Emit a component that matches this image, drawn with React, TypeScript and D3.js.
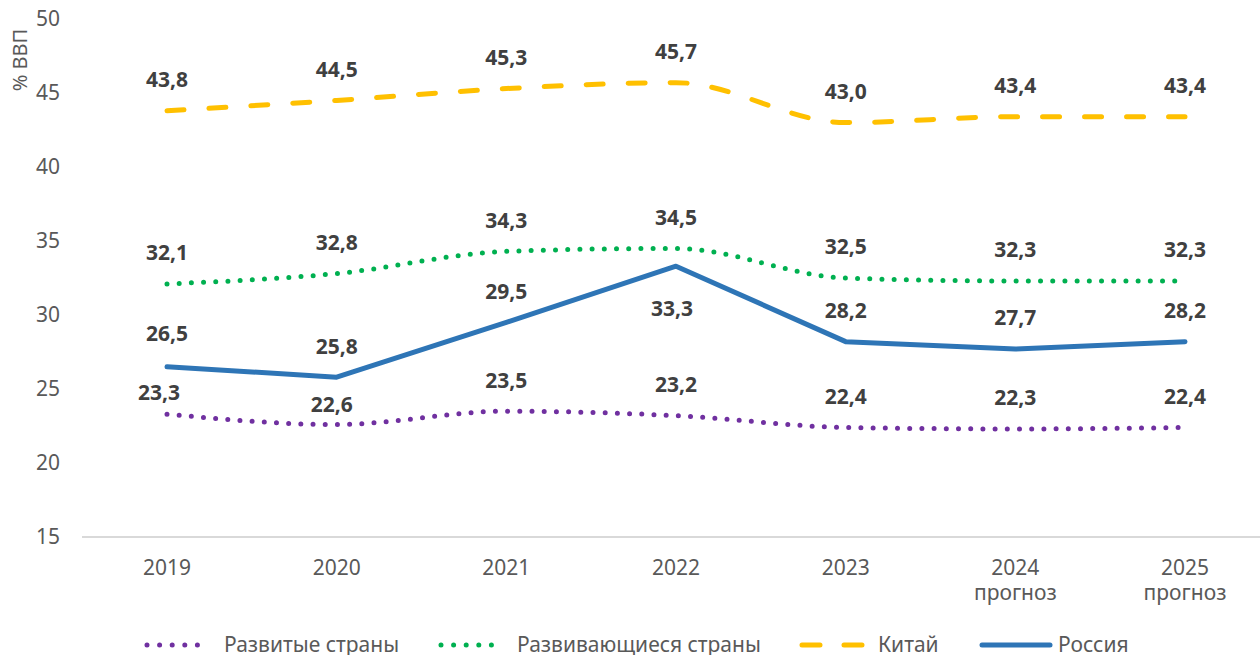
import React from "react";
import * as d3 from "d3";

const years = ["2019", "2020", "2021", "2022", "2023", "2024", "2025"];
const yearSub = ["", "", "", "", "", "прогноз", "прогноз"];
const developed = [23.3, 22.6, 23.5, 23.2, 22.4, 22.3, 22.4];
const developing = [32.1, 32.8, 34.3, 34.5, 32.5, 32.3, 32.3];
const china = [43.8, 44.5, 45.3, 45.7, 43.0, 43.4, 43.4];
const russia = [26.5, 25.8, 29.5, 33.3, 28.2, 27.7, 28.2];
const yTicks = [15, 20, 25, 30, 35, 40, 45, 50];
const seriesNames = ["Развитые страны", "Развивающиеся страны", "Китай", "Россия"];
const yTitle = "% ВВП";

const W = 1260;
const H = 655;
const FONT = "'Noto Sans', Roboto, sans-serif";

type Series = {
  name: string;
  values: number[];
  color: string;
  dash: string;
  smooth: boolean;
};

export default function App() {
  const x = d3.scalePoint<string>().domain(years).range([167, 1185]);
  const y = d3.scaleLinear().domain([15, 50]).range([537, 19]);

  const series: Series[] = [
    { name: seriesNames[0], values: developed, color: "#7030A0", dash: "0 12.2", smooth: true },
    { name: seriesNames[1], values: developing, color: "#00B050", dash: "0 12.2", smooth: true },
    { name: seriesNames[2], values: china, color: "#FFC000", dash: "17 25", smooth: true },
    { name: seriesNames[3], values: russia, color: "#2E75B6", dash: "", smooth: false },
  ];

  const labelDy = (si: number, i: number) => {
    if (si === 3 && i === 3) return 42;
    if (si === 0 && i === 0) return -22;
    if (si === 0 && i === 1) return -20;
    if (si === 3 && i === 0) return -33;
    return -31;
  };
  const labelDx = (si: number, i: number) => {
    if (si === 0 && i === 0) return -8;
    if (si === 0 && i === 1) return -5;
    if (si === 3 && i === 3) return -4;
    return 0;
  };

  const fmt = (v: number) => v.toFixed(1).replace(".", ",");

  const legendPos = [
    { x0: 147, x1: 210, tx: 224 },
    { x0: 441, x1: 504, tx: 517 },
    { x0: 802, x1: 864, tx: 878 },
    { x0: 982, x1: 1050, tx: 1058 },
  ];

  return (
    <svg width={W} height={H} style={{ position: "absolute", left: 0, top: 0, background: "#fff" }} fontFamily={FONT}>
      <rect width={W} height={H} fill="#fff" />
      {yTicks.map((t) => (
        <text key={t} x={60} y={y(t)} dy="0.35em" textAnchor="end" fontSize={21} fill="#595959">
          {t}
        </text>
      ))}
      <text transform={`translate(27,60) rotate(-90)`} textAnchor="middle" fontSize={20} fill="#595959">
        {yTitle}
      </text>
      <line x1={82} x2={1270} y1={y(15)} y2={y(15)} stroke="#d9d9d9" strokeWidth={2} />
      {years.map((yr, i) => (
        <g key={yr}>
          <text x={x(yr)} y={575} textAnchor="middle" fontSize={21} fill="#595959">
            {yr}
          </text>
          {yearSub[i] && (
            <text x={x(yr)} y={600} textAnchor="middle" fontSize={21} fill="#595959">
              {yearSub[i]}
            </text>
          )}
        </g>
      ))}
      {series.map((s) => {
        const line = d3
          .line<number>()
          .x((_, i) => x(years[i]) as number)
          .y((v) => y(v))
          .curve(s.smooth ? d3.curveMonotoneX : d3.curveLinear);
        return (
          <path
            key={s.name}
            d={line(s.values) || ""}
            fill="none"
            stroke={s.color}
            strokeWidth={5}
            strokeDasharray={s.dash || undefined}
            strokeLinecap="round"
            strokeLinejoin="round"
          />
        );
      })}
      {series.map((s, si) =>
        s.values.map((v, i) => (
          <text
            key={`${si}-${i}`}
            x={(x(years[i]) as number) + labelDx(si, i)}
            y={y(v) + labelDy(si, i)}
            dy="0.35em"
            textAnchor="middle"
            fontSize={21}
            fontWeight="bold"
            fill="#404040"
          >
            {fmt(v)}
          </text>
        ))
      )}
      {series.map((s, si) => (
        <g key={`lg-${si}`}>
          <line
            x1={legendPos[si].x0}
            x2={legendPos[si].x1}
            y1={645}
            y2={645}
            stroke={s.color}
            strokeWidth={5}
            strokeDasharray={si === 2 ? "18 24" : s.dash ? "0 12.6" : undefined}
            strokeLinecap="round"
          />
          <text x={legendPos[si].tx} y={652} fontSize={21} fill="#595959">
            {s.name}
          </text>
        </g>
      ))}
    </svg>
  );
}
